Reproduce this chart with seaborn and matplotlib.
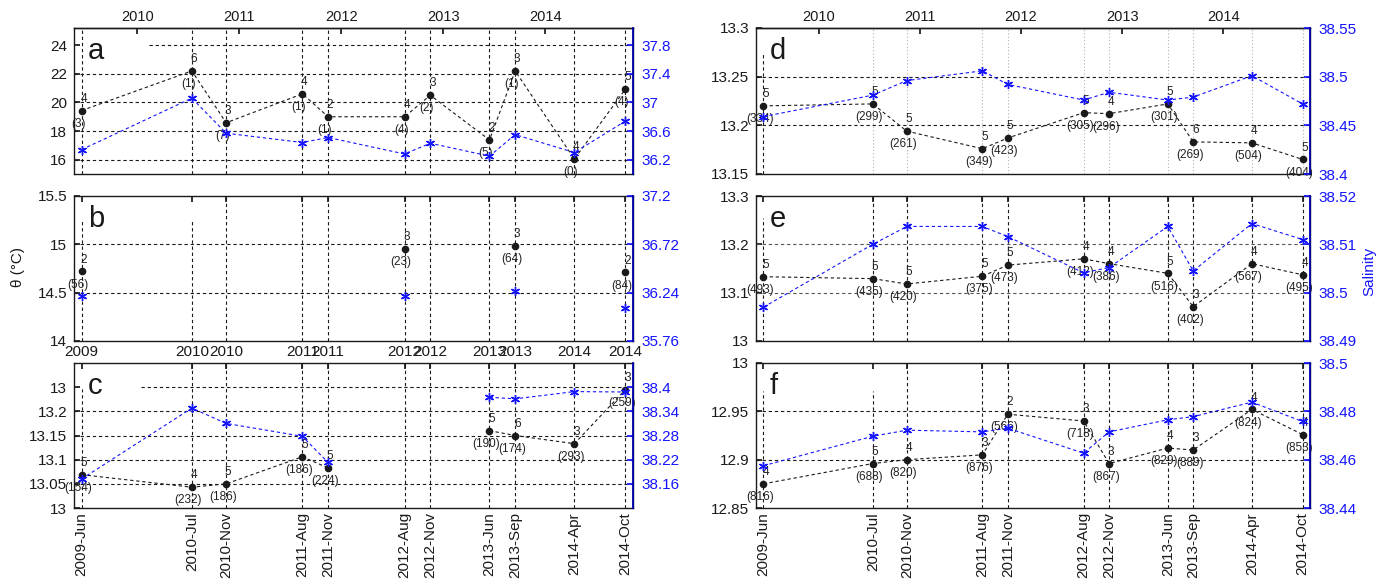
import numpy as np
import pandas as pd
import matplotlib
matplotlib.use('Agg')
import matplotlib.pyplot as plt
import matplotlib.dates as mdates
import seaborn as sns

# sampling campaigns
months = ['2009-Jun', '2010-Jul', '2010-Nov', '2011-Aug', '2011-Nov', '2012-Aug',
          '2012-Nov', '2013-Jun', '2013-Sep', '2014-Apr', '2014-Oct']
years = [2010, 2011, 2012, 2013, 2014]
nan = np.nan

# panel a
theta_a = [19.43, 22.2, 18.58, 20.6, 19.0, 19.0, 20.5, 17.38, 22.2, 16.05, 20.93]
sal_a = [36.34, 37.06, 36.57, 36.44, 36.51, 36.28, 36.43, 36.25, 36.55, 36.30, 36.74]
ntop_a = [4, 6, 3, 4, 2, 4, 3, 2, 3, 4, 5]
nbot_a = [3, 1, 7, 1, 1, 4, 2, 5, 1, 0, 4]
# panel b
theta_b = [14.72, nan, nan, nan, nan, 14.95, nan, nan, 14.98, nan, 14.71]
sal_b = [36.21, nan, nan, nan, nan, 36.21, nan, nan, 36.26, nan, 36.09]
ntop_b = [2, None, None, None, None, 3, None, None, 3, None, 2]
nbot_b = [56, None, None, None, None, 23, None, None, 64, None, 84]
# panel c
theta_c = [13.069, 13.043, 13.05, 13.106, 13.083, nan, nan, 13.16, 13.15, 13.133, 13.245]
sal_c = [38.172, 38.348, 38.31, 38.278, 38.213, nan, nan, 38.375, 38.371, 38.389, 38.388]
ntop_c = [5, 4, 5, 5, 5, None, None, 5, 6, 3, 3]
nbot_c = [154, 232, 186, 186, 224, None, None, 190, 174, 293, 259]
# panel d
theta_d = [13.22, 13.222, 13.194, 13.176, 13.187, 13.213, 13.212, 13.222, 13.183, 13.182, 13.165]
sal_d = [38.459, 38.481, 38.496, 38.506, 38.492, 38.476, 38.484, 38.476, 38.479, 38.501, 38.472]
ntop_d = [5, 5, 5, 5, 5, 5, 4, 5, 6, 4, 5]
nbot_d = [334, 299, 261, 349, 423, 305, 296, 301, 269, 504, 404]
# panel e
theta_e = [13.133, 13.129, 13.118, 13.134, 13.157, 13.17, 13.16, 13.14, 13.071, 13.16, 13.137]
sal_e = [38.497, 38.510, 38.5137, 38.5137, 38.5116, 38.5041, 38.5052, 38.5137, 38.5045, 38.5143, 38.511]
ntop_e = [5, 5, 5, 5, 5, 4, 4, 5, 3, 4, 4]
nbot_e = [493, 435, 420, 375, 473, 412, 386, 516, 402, 567, 495]
# panel f
theta_f = [12.875, 12.896, 12.9, 12.905, 12.947, 12.94, 12.896, 12.912, 12.91, 12.952, 12.926]
sal_f = [38.4575, 38.4697, 38.4722, 38.4715, 38.473, 38.4627, 38.4715, 38.4765, 38.4778, 38.4838, 38.4758]
ntop_f = [4, 5, 4, 3, 2, 3, 3, 4, 3, 4, 4]
nbot_f = [816, 688, 820, 876, 566, 718, 867, 829, 889, 824, 853]

# axis ranges / ticks
yl_a, yt_a = (15.0, 25.2), [16, 18, 20, 22, 24]
sl_a, st_a = (36.0, 38.04), [36.2, 36.6, 37.0, 37.4, 37.8]
yl_b, yt_b = (14.0, 15.5), [14, 14.5, 15, 15.5]
sl_b, st_b = (35.76, 37.2), [35.76, 36.24, 36.72, 37.2]
yl_c, yt_c = (13.0, 13.3), [13, 13.05, 13.1, 13.15, 13.2, 13.25]
ylab_c = ['13', '13.05', '13.1', '13.15', '13.2', '13']
sl_c, st_c = (38.10, 38.46), [38.16, 38.22, 38.28, 38.34, 38.4]
yl_d, yt_d = (13.15, 13.3), [13.15, 13.2, 13.25, 13.3]
sl_d, st_d = (38.4, 38.55), [38.4, 38.45, 38.5, 38.55]
yl_e, yt_e = (13.0, 13.3), [13, 13.1, 13.2, 13.3]
sl_e, st_e = (38.49, 38.52), [38.49, 38.5, 38.51, 38.52]
yl_f, yt_f = (12.85, 13.0), [12.85, 12.9, 12.95, 13.0]
sl_f, st_f = (38.44, 38.50), [38.44, 38.46, 38.48, 38.5]

sns.set_theme(style='white', rc={'axes.linewidth': 1.0, 'text.color': 'k',
                                 'xtick.color': 'k', 'ytick.color': 'k',
                                 'axes.labelcolor': 'k', 'axes.edgecolor': 'k'})
plt.rcParams['font.family'] = ['Liberation Sans', 'DejaVu Sans']

dates = pd.to_datetime([m + '-15' for m in months], format='%Y-%b-%d')
xnum = mdates.date2num(dates)
ynum = mdates.date2num(pd.to_datetime([f'{y}-01-01' for y in years]))
xlim = (xnum[0] - 27, xnum[-1] + 27)

W, H = 1397, 582
fig = plt.figure(figsize=(W / 100, H / 100), dpi=100)

def rect(x0, x1, y0, y1):
    return [x0 / W, 1 - y1 / H, (x1 - x0) / W, (y1 - y0) / H]

cols = [(74, 633), (756, 1310)]
rows = [(28, 174), (196, 341), (363, 508)]

BLUE = '#1414ff'
dash = (0, (3, 2.5))


def panel(pos, letter, theta, sal, ntop, nbot, yl, yt, sl, st, ylab=None,
          xlab=None, top_years=False, vtop=None, hxmin=None,
          vcolor='k', vstyle=dash, hcolor='k'):
    ax = fig.add_axes(pos)
    df = pd.DataFrame({'x': xnum, 't': theta, 's': sal})
    df['seg'] = np.cumsum(df['t'].isna())
    dt = df.dropna(subset=['t'])
    df['seg2'] = np.cumsum(df['s'].isna())
    ds = df.dropna(subset=['s'])

    # grid lines
    vtop = vtop or {}
    for i, x in enumerate(xnum):
        if i in vtop:
            ax.axvline(x, ymax=vtop[i], color='k', lw=0.8, ls=dash, zorder=1)
        else:
            ax.axvline(x, color=vcolor, lw=0.8, ls=vstyle, zorder=1)
    hxmin = hxmin or {}
    for v in yt:
        if yl[0] < v < yl[1] - 1e-9:
            ax.axhline(v, xmin=hxmin.get(v, 0), color=hcolor, lw=0.8, ls=dash, zorder=1)

    sns.lineplot(data=dt, x='x', y='t', units='seg', estimator=None, sort=False,
                 ax=ax, color='k', lw=0.8, linestyle=dash, marker='o',
                 markersize=5.5, markeredgewidth=0, legend=False, zorder=3)
    for x, t, a, b in zip(xnum, theta, ntop, nbot):
        if np.isnan(t):
            continue
        ax.annotate(str(a), (x, t), xytext=(1.5, 8.5), textcoords='offset points',
                    ha='center', va='center', fontsize=8.5, color='#222222')
        ax.annotate(f'({b})', (x, t), xytext=(-2.5, -9.5), textcoords='offset points',
                    ha='center', va='center', fontsize=8.5, color='#222222')

    ax.set_xlim(xlim)
    ax.set_ylim(yl)
    ax.set_yticks(yt)
    ax.set_yticklabels(ylab if ylab else [f'{v:g}' for v in yt])
    ax.set_xticks(xnum)
    if xlab is None:
        ax.set_xticklabels([])
    elif xlab == 'year':
        ax.set_xticklabels([d.strftime('%Y') for d in dates])
    else:
        ax.set_xticklabels([d.strftime('%Y-%b') for d in dates], rotation=90,
                           va='top', ha='center', fontsize=10.5)
    ax.tick_params(axis='x', direction='in', length=4, top=not top_years,
                   labelsize=11, pad=3)
    ax.tick_params(axis='y', direction='in', length=4, labelsize=11, pad=5)
    ax.set_xlabel('')
    ax.set_ylabel('')
    for s in ax.spines.values():
        s.set_color('k')

    if top_years:
        sec = ax.secondary_xaxis('top')
        sec.set_xticks(ynum)
        sec.set_xticklabels([str(y) for y in years])
        sec.tick_params(direction='in', length=4, labelsize=10.5, pad=3)

    ax.annotate(letter, (0, 1), xycoords='axes fraction', xytext=(10, -22),
                textcoords='offset points', fontsize=21, va='baseline', ha='left',
                color='k')

    ax2 = ax.twinx()
    sns.lineplot(data=ds, x='x', y='s', units='seg2', estimator=None, sort=False,
                 ax=ax2, color=BLUE, lw=0.8, linestyle=dash, marker=(6, 2, 0),
                 markersize=6.5, markeredgewidth=1.0, markeredgecolor=BLUE,
                 legend=False)
    ax2.set_ylim(sl)
    ax2.set_yticks(st)
    ax2.set_yticklabels([f'{v:g}' for v in st])
    ax2.tick_params(axis='y', direction='in', length=4, colors=BLUE, labelsize=11, pad=6)
    ax2.set_ylabel('')
    ax2.set_xlim(xlim)
    ax2.spines['right'].set_color('#0000b0')
    ax2.spines['right'].set_linewidth(1.3)
    for s in ['left', 'top', 'bottom']:
        ax2.spines[s].set_visible(False)
    return ax, ax2


L, R = cols
panel(rect(*L, *rows[0]), 'a', theta_a, sal_a, ntop_a, nbot_a, yl_a, yt_a, sl_a, st_a,
      top_years=True, hxmin={24: 0.135})
panel(rect(*L, *rows[1]), 'b', theta_b, sal_b, ntop_b, nbot_b, yl_b, yt_b, sl_b, st_b,
      xlab='year', vtop={0: 0.83, 1: 0.83})
panel(rect(*L, *rows[2]), 'c', theta_c, sal_c, ntop_c, nbot_c, yl_c, yt_c, sl_c, st_c,
      ylab=ylab_c, xlab='month', vtop={0: 0.82}, hxmin={13.25: 0.119})
panel(rect(*R, *rows[0]), 'd', theta_d, sal_d, ntop_d, nbot_d, yl_d, yt_d, sl_d, st_d,
      top_years=True, vtop={0: 0.83}, vcolor='#b0b0b0', vstyle=(0, (1, 2)))
panel(rect(*R, *rows[1]), 'e', theta_e, sal_e, ntop_e, nbot_e, yl_e, yt_e, sl_e, st_e,
      vtop={0: 0.85}, hcolor='#555555')
panel(rect(*R, *rows[2]), 'f', theta_f, sal_f, ntop_f, nbot_f, yl_f, yt_f, sl_f, st_f,
      xlab='month', vtop={0: 0.81, 1: 0.81})

fig.text(18 / W, 1 - 267 / H, 'θ (°C)', rotation=90, va='center', ha='center', fontsize=11)
fig.text(1369 / W, 1 - 271 / H, 'Salinity', rotation=90, va='center', ha='center',
         fontsize=11, color=BLUE)

fig.savefig('out.png', dpi=100)
